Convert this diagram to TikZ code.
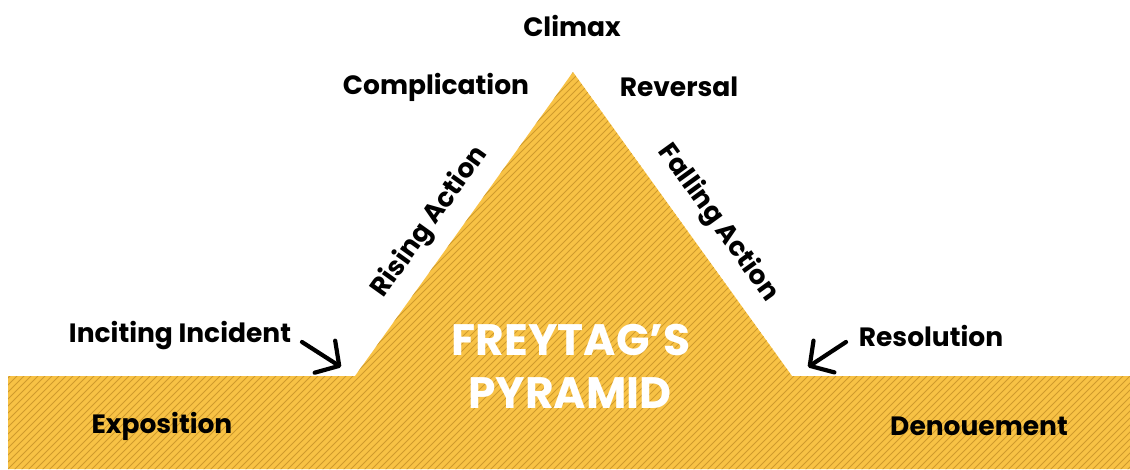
\documentclass[tikz,border=0pt]{standalone}
\usepackage{fontspec}
\setmainfont{Poppins}
\usetikzlibrary{arrows.meta}
\definecolor{gold}{HTML}{F8C245}
\definecolor{stripe}{HTML}{CF9A2C}
\begin{document}
\begin{tikzpicture}[x=1pt,y=-1pt,
  lbl/.style={font=\bfseries\fontsize{26.5}{30}\selectfont, text=black, inner sep=0pt},
  big/.style={font=\bfseries\fontsize{44}{48}\selectfont, text=white, inner sep=0pt},
  pointer/.style={draw=black, line width=4.2pt, line cap=round,
    -{Straight Barb[length=17pt,width=38pt,line width=4.2pt,round]}}]
\useasboundingbox (0,0) rectangle (1130,469);
\path[fill=gold] (8,469) -- (8,376) -- (355,376) -- (573,72) -- (792,376) -- (1130,376) -- (1130,469) -- cycle;
\begin{scope}
  \clip (8,469) -- (8,376) -- (355,376) -- (573,72) -- (792,376) -- (1130,376) -- (1130,469) -- cycle;
  \foreach \i in {-420,-413,...,1140} \draw[stripe, line width=0.9pt] (\i,470) -- (\i+420,50);
\end{scope}
\node[lbl] (climax) at (572,26) {Climax};
\node[lbl] (compl) at (436,87) {Complication};
\node[lbl] (rev) at (679,87) {Reversal};
\node[lbl, rotate=54.4] (rising) at (430,222) {Rising Action};
\node[lbl, rotate=-54.2] (falling) at (718,223) {Falling Action};
\node[lbl] (incit) at (180,336) {Inciting Incident};
\node[lbl] (resol) at (931,336) {Resolution};
\node[lbl] (expo) at (162,426) {Exposition};
\node[lbl] (denou) at (979,426) {Denouement};
\node[big] (frey) at (571,340) {FREYTAG’S};
\node[big] (pyr) at (570,393) {PYRAMID};
\coordinate (incfoot) at (341,367);
\coordinate (resfoot) at (808,367);
\coordinate (incstart) at (302,342);
\coordinate (resstart) at (846,342);
\draw[pointer] (incstart) -- (incfoot);
\draw[pointer] (resstart) -- (resfoot);
\end{tikzpicture}
\end{document}
